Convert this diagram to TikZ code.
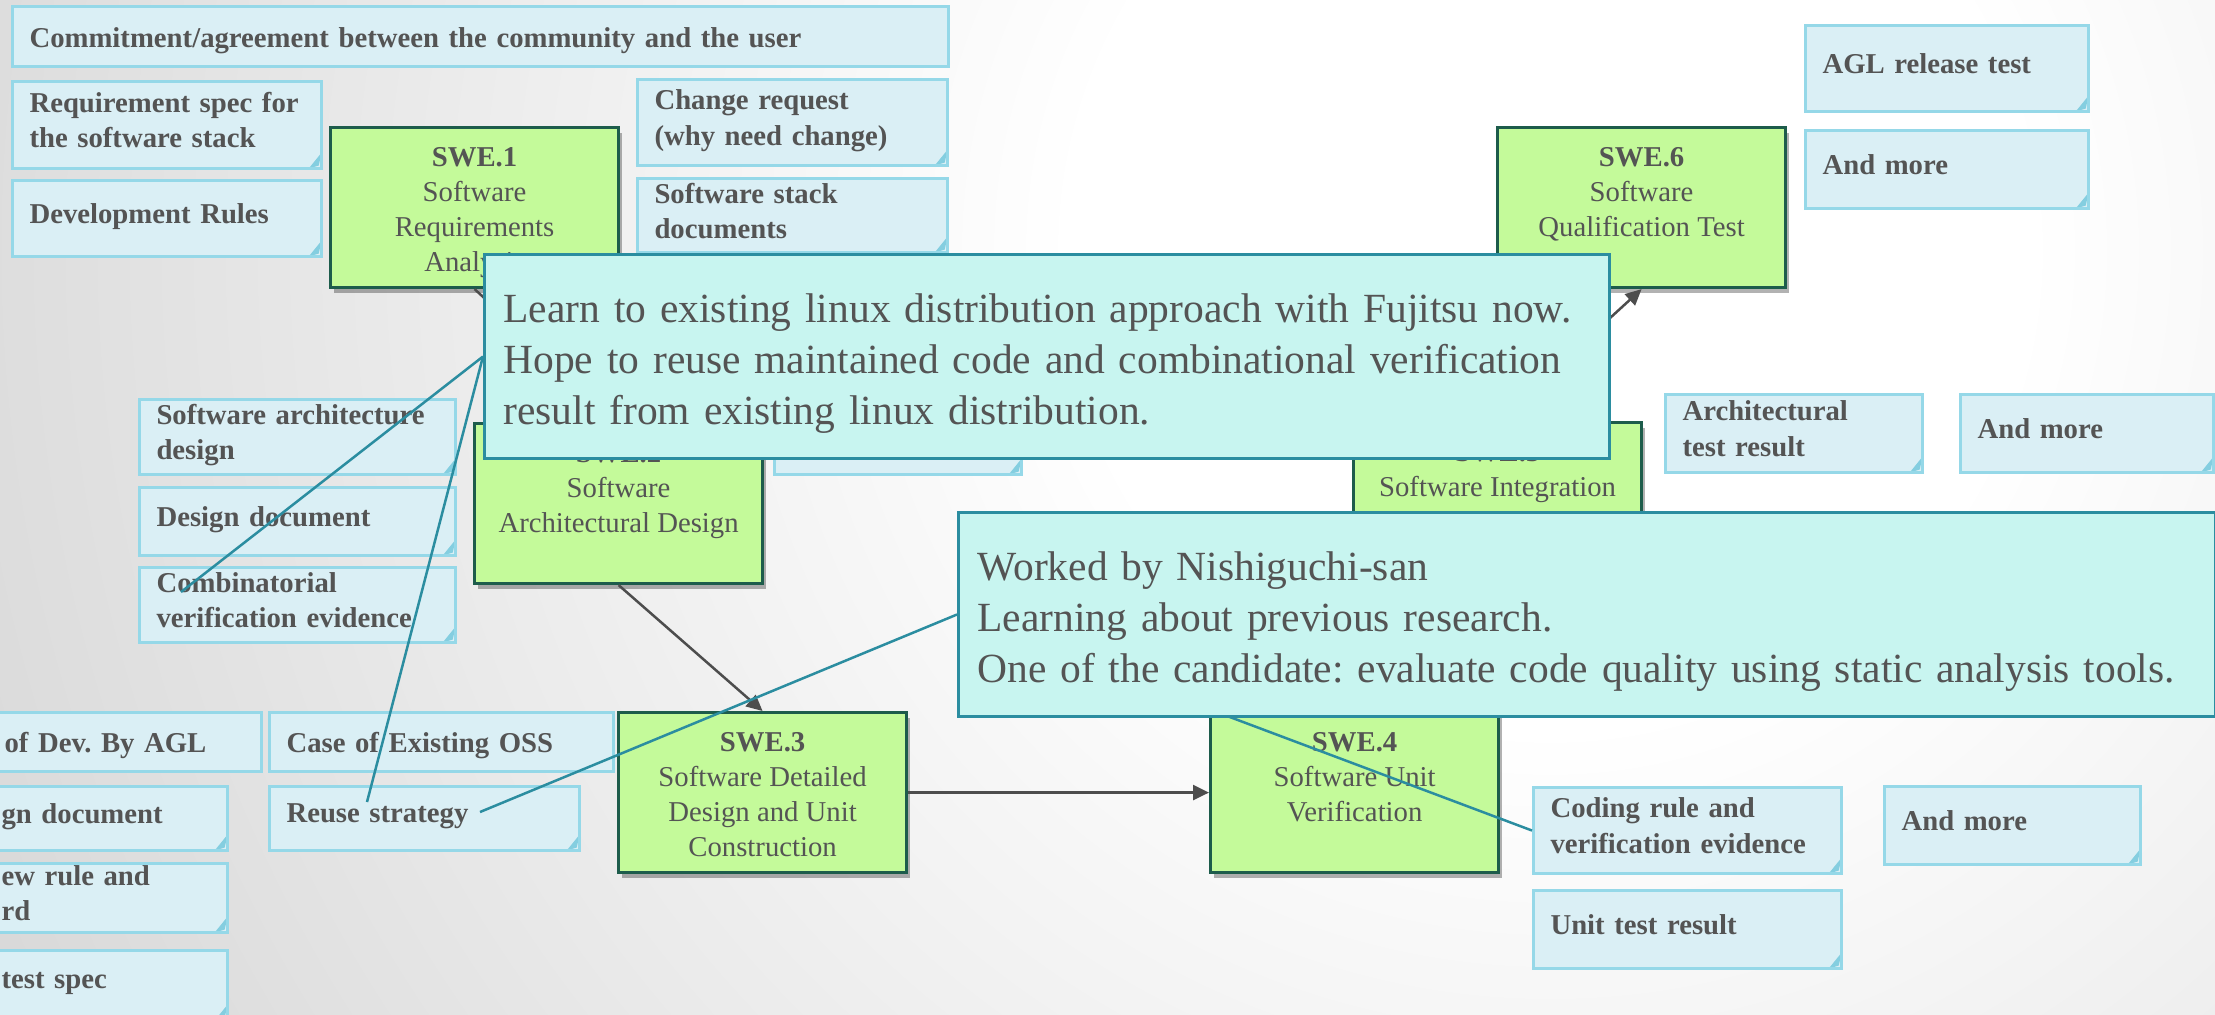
\documentclass[tikz,border=0pt]{standalone}
\usepackage{xcolor}
\usepackage{fontspec}
\setmainfont{Liberation Serif}
\usepackage{tikz}
\usetikzlibrary{calc}
\usetikzlibrary{arrows.meta}
\usetikzlibrary{shadows}
\usetikzlibrary{positioning}
\frenchspacing

\definecolor{notebg}{HTML}{DAEFF5}
\definecolor{notebd}{HTML}{95D8E8}
\definecolor{foldc}{HTML}{84CEE0}
\definecolor{swebg}{HTML}{C4FA9A}
\definecolor{swebd}{HTML}{1D5C4B}
\definecolor{callbg}{HTML}{C8F5F0}
\definecolor{callbd}{HTML}{2B8DA0}
\definecolor{inkc}{HTML}{545454}
\definecolor{flowc}{HTML}{4D4D4D}

\newcommand{\notesize}{\fontsize{8.17pt}{9.96pt}\selectfont}
\newcommand{\callsize}{\fontsize{11.8pt}{14.5pt}\selectfont}
\newcommand{\swetext}[2]{\parbox[c][1.6cm][t]{2.88cm}{\centering\rule{0pt}{0.39cm}\textbf{#1}\\#2}}

\pgfdeclareradialshading{backdrop}{\pgfpoint{0bp}{0bp}}{color(0bp)=(white); color(7bp)=(white); color(25bp)=(black!15); color(50bp)=(black!15)}

\tikzset{>=latex}
\tikzstyle{card} = [rectangle, draw = notebd, fill = notebg, line width = 0.03cm, anchor = north west, inner xsep = 0.17cm, inner ysep = 0, align = left, text = inkc, font = \notesize\bfseries]
\tikzstyle{note} = [card, execute at begin node = {\rule{0pt}{0.28cm}}]
\tikzstyle{notefold} = [card, execute at end node = {\rule[-0.1cm]{0pt}{0pt}}, path picture = {\fill [foldc] ([yshift = 0.16cm]path picture bounding box.south east) -- ([xshift = -0.13cm]path picture bounding box.south east) -- ([xshift = -0.03cm, yshift = 0.03cm]path picture bounding box.south east) -- cycle;}]
\tikzstyle{swebox} = [rectangle, draw = swebd, fill = swebg, line width = 0.03cm, anchor = north west, inner sep = 0, text = inkc, font = \notesize, drop shadow = {shadow xshift = 0.03cm, shadow yshift = -0.05cm, opacity = 0.3, fill = black}]
\tikzstyle{callout} = [rectangle, draw = callbd, fill = callbg, line width = 0.03cm, anchor = west, inner xsep = 0.19cm, inner ysep = 0, minimum height = 2.03cm, align = left, text = inkc, font = \callsize, execute at begin node = {\rule{0pt}{0.43cm}}]
\tikzstyle{flow} = [-{Triangle[length = 0.16cm, width = 0.15cm]}, line width = 0.025cm, draw = flowc]
\tikzstyle{pointer} = [-, line width = 0.025cm, draw = callbd]

\begin{document}
\begin{tikzpicture}[x = 0.01cm, y = -0.01cm]
\useasboundingbox (0, 0) rectangle (2215, 1014);
\clip (0, 0) rectangle (2215, 1014);
\shade [shading = backdrop] (1550, 250) circle [radius = 17cm];

% work products
\node [note, text width = 9.01cm, minimum height = 0.6cm] (commit) at (11, 5) {Commitment/agreement between the community and the user};
\node [notefold, text width = 2.75cm, minimum height = 0.87cm] (reqspec) at (11, 80) {Requirement spec for\\the software stack};
\node [notefold, text width = 2.75cm, minimum height = 0.76cm] (devrules) at (11, 179) {Development Rules};
\node [notefold, text width = 2.76cm, minimum height = 0.86cm] (chgreq) at (636, 78) {Change request\\(why need change)};
\node [notefold, text width = 2.76cm, minimum height = 0.74cm] (stackdoc) at (636, 177) {Software stack\\documents};
\node [notefold, text width = 2.49cm, minimum height = 0.86cm] (agltest) at (1804, 24) {AGL release test};
\node [notefold, text width = 2.49cm, minimum height = 0.78cm] (more6) at (1804, 129) {And more};
\node [notefold, text width = 2.82cm, minimum height = 0.75cm] (archdesign) at (138, 398) {Software architecture\\design};
\node [notefold, text width = 2.82cm, minimum height = 0.68cm] (designdoc) at (138, 486) {Design document};
\node [notefold, text width = 2.82cm, minimum height = 0.75cm] (combi) at (138, 566) {Combinatorial\\verification evidence};
\node [notefold, text width = 2.13cm, minimum height = 0.75cm] (covered) at (773, 398) {};
\node [notefold, text width = 2.23cm, minimum height = 0.78cm] (archres) at (1664, 393) {Architectural\\test result};
\node [notefold, text width = 2.19cm, minimum height = 0.78cm] (more5) at (1959, 393) {And more};
\node [note, text width = 2.40cm, minimum height = 0.59cm] (devagl) at (-14, 711) {of Dev. By AGL};
\node [note, text width = 3.10cm, minimum height = 0.59cm] (existoss) at (268, 711) {Case of Existing OSS};
\node [notefold, text width = 2.09cm, minimum height = 0.64cm] (gndoc) at (-17, 785) {gn document};
\node [notefold, text width = 2.76cm, minimum height = 0.64cm] (reuse) at (268, 785) {Reuse strategy};
\node [notefold, text width = 2.09cm, minimum height = 0.69cm] (reviewrule) at (-17, 862) {ew rule and\\rd};
\node [notefold, text width = 2.09cm, minimum height = 0.70cm] (testspec) at (-17, 949) {test spec};
\node [notefold, text width = 2.74cm, minimum height = 0.86cm] (codingrule) at (1532, 786) {Coding rule and\\verification evidence};
\node [notefold, text width = 2.22cm, minimum height = 0.78cm] (more4) at (1883, 785) {And more};
\node [notefold, text width = 2.74cm, minimum height = 0.78cm] (unitres) at (1532, 889) {Unit test result};

% process boxes
\node [swebox] (swe1) at (329, 126) {\swetext{SWE.1}{Software\\Requirements\\Analysis}};
\node [swebox] (swe2) at (473, 422) {\swetext{SWE.2}{Software\\Architectural Design}};
\node [swebox] (swe3) at (617, 711) {\swetext{SWE.3}{Software Detailed\\Design and Unit\\Construction}};
\node [swebox] (swe4) at (1209, 711) {\swetext{SWE.4}{Software Unit\\Verification}};
\node [swebox] (swe5) at (1352, 421) {\swetext{SWE.5}{Software Integration\\and Integration Test}};
\node [swebox] (swe6) at (1496, 126) {\swetext{SWE.6}{Software\\Qualification Test}};

\draw [flow] (swe1.south) to (swe2.north);
\draw [flow] (swe2.south) to (swe3.north);
\draw [flow] (swe3.east) to (swe4.west);
\draw [flow] (swe4.north) to (swe5.south);
\draw [flow] (swe5.north) to (swe6.south);

% comments
\coordinate (c1) at (483, 356.5);
\coordinate (c2) at (957, 614.5);
\coordinate (tipA) at (181, 592);
\coordinate (tipB) at (367, 802);
\coordinate (tipC) at (480, 812);
\draw [pointer] (c1) -- (tipA);
\draw [pointer] (c1) -- (tipB);
\draw [pointer] (c2) -- (tipC);
\draw [pointer] (c2) -- (codingrule.west);
\node [callout, text width = 10.86cm] (call1) at (c1) {Learn to existing linux distribution approach with Fujitsu now.\\Hope to reuse maintained code and combinational verification\\result from existing linux distribution.};
\node [callout, text width = 12.18cm] (call2) at (c2) {Worked by Nishiguchi-san\\Learning about previous research.\\One of the candidate: evaluate code quality using static analysis tools.};
\end{tikzpicture}
\end{document}
